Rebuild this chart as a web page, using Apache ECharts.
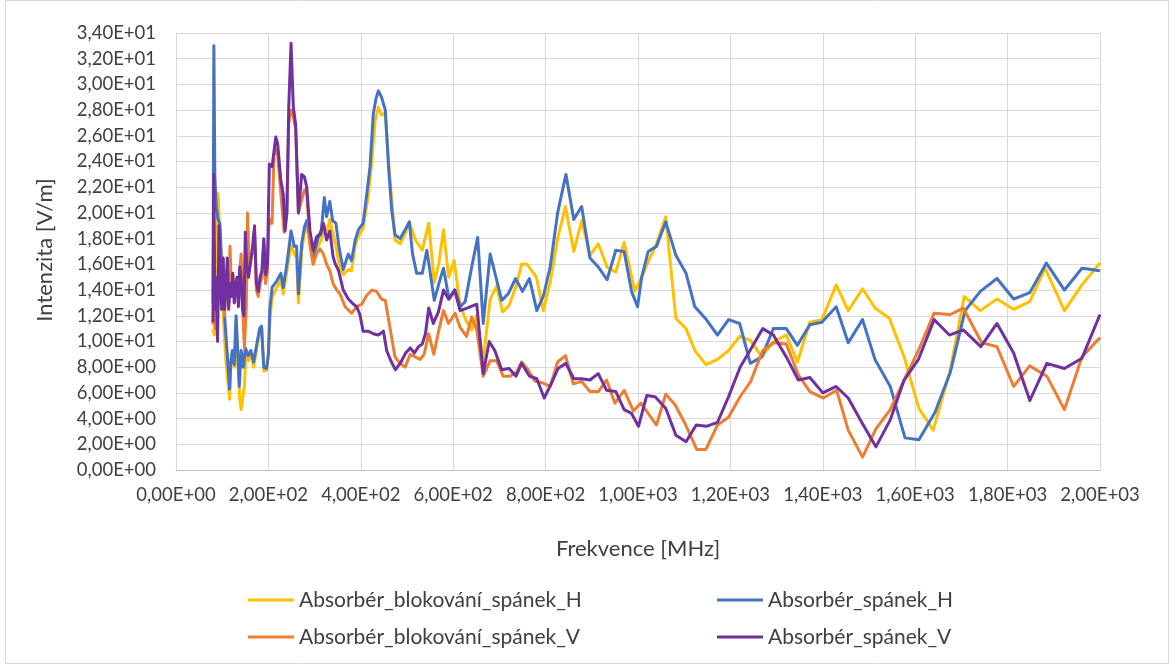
<!DOCTYPE html>
<html>
<head>
<meta charset="utf-8">
<script src="https://cdn.jsdelivr.net/npm/echarts@6/dist/echarts.min.js"></script>
<style>
  html, body { margin: 0; padding: 0; background: #ffffff; }
  #chart { width: 1176px; height: 669px; }
</style>
</head>
<body>
<div id="chart"></div>
<script>
// Measured field strength [V/m] against frequency [MHz], pairs of [MHz, V/m]
const absBlokH = [[80,11.0],[83,10.5],[86,16.0],[89,18.0],[91,21.5],[94,19.0],[97,17.0],[100,14.0],[104,11.0],[108,8.5],[112,7.0],[116,5.5],[119,8.5],[123,9.0],[127,8.0],[130,11.5],[134,8.5],[138,5.5],[141,4.7],[145,4.7],[148,6.5],[152,9.3],[157,8.5],[163,9.0],[168,8.0],[174,9.3],[181,10.8],[186,11.0],[190,7.7],[196,7.8],[200,9.0],[204,12.0],[208,13.4],[218,14.2],[227,14.8],[232,13.7],[240,15.5],[249,17.5],[256,16.8],[261,16.5],[265,13.0],[272,17.0],[278,18.5],[283,19.0],[290,17.5],[297,16.0],[308,17.5],[314,17.8],[321,19.0],[326,18.5],[333,19.5],[339,18.5],[346,17.5],[353,16.0],[362,15.2],[373,15.6],[380,15.5],[388,17.5],[395,18.2],[405,18.8],[416,21.3],[424,24.1],[431,27.2],[438,28.2],[445,27.6],[453,27.8],[460,24.1],[467,21.0],[474,17.9],[485,17.6],[496,18.4],[505,19.3],[518,17.9],[533,17.1],[547,19.2],[559,14.6],[569,16.1],[579,18.7],[590,15.0],[602,16.3],[615,12.8],[628,11.6],[640,10.9],[650,12.0],[665,8.5],[680,13.3],[694,14.3],[707,12.3],[721,12.8],[736,14.3],[748,16.0],[760,16.0],[780,15.0],[795,12.4],[811,14.8],[826,18.0],[843,20.5],[861,17.0],[878,19.4],[896,16.7],[914,17.6],[933,15.8],[952,15.4],[970,17.7],[993,13.9],[1008,15.0],[1022,16.2],[1040,17.6],[1060,19.7],[1082,11.8],[1104,11.0],[1123,9.3],[1147,8.2],[1172,8.6],[1196,9.3],[1220,10.4],[1243,10.1],[1268,8.8],[1293,10.0],[1321,10.5],[1345,8.4],[1372,11.5],[1398,11.7],[1429,14.4],[1455,12.4],[1486,14.1],[1513,12.6],[1544,11.8],[1576,8.8],[1608,4.8],[1639,3.1],[1676,7.8],[1706,13.5],[1741,12.4],[1777,13.3],[1813,12.5],[1848,13.1],[1881,15.7],[1923,12.4],[1961,14.4],[2000,16.1]];

const absSpanekH = [[80,13.0],[82,33.0],[84,23.0],[87,20.5],[91,19.5],[95,19.2],[99,16.0],[103,13.5],[107,11.0],[111,9.0],[116,6.3],[119,8.5],[122,9.3],[126,8.2],[130,12.0],[134,9.0],[137,6.5],[141,9.3],[146,8.0],[150,9.5],[156,8.9],[162,9.3],[168,8.4],[174,9.6],[181,11.0],[185,11.2],[190,8.0],[196,7.9],[200,9.0],[203,12.5],[208,14.2],[218,14.7],[227,15.3],[232,14.2],[240,16.0],[249,18.6],[256,17.4],[261,17.4],[265,13.7],[272,17.6],[278,18.9],[283,19.4],[290,18.1],[297,16.6],[308,18.1],[314,18.4],[321,21.2],[326,19.7],[333,20.9],[339,19.4],[346,19.2],[353,17.3],[362,15.6],[373,16.8],[380,16.3],[388,17.9],[395,18.7],[405,19.2],[413,21.5],[420,23.6],[427,27.7],[433,28.9],[438,29.5],[445,29.0],[453,28.0],[460,23.6],[467,20.2],[474,18.3],[485,18.0],[496,18.7],[505,19.3],[512,16.8],[521,15.3],[533,15.3],[543,17.1],[559,13.2],[569,14.5],[579,15.7],[591,13.3],[604,14.0],[615,12.7],[626,13.1],[640,15.8],[653,18.1],[665,11.4],[680,16.8],[694,14.8],[705,13.2],[719,13.7],[735,14.9],[750,13.9],[765,14.9],[781,12.4],[795,13.5],[810,15.8],[826,20.0],[844,23.0],[861,19.5],[878,20.5],[896,16.5],[914,15.8],[933,14.8],[952,17.1],[970,17.0],[986,13.9],[999,12.7],[1008,15.0],[1022,17.0],[1040,17.4],[1060,19.3],[1082,16.7],[1104,15.3],[1123,12.7],[1148,11.7],[1172,10.5],[1196,11.7],[1220,11.4],[1243,8.3],[1268,8.8],[1293,11.0],[1321,11.0],[1345,9.7],[1372,11.3],[1398,11.5],[1429,12.7],[1455,9.9],[1486,11.7],[1513,8.6],[1546,6.5],[1578,2.5],[1608,2.35],[1643,4.5],[1676,7.6],[1708,12.4],[1741,13.9],[1777,14.9],[1813,13.3],[1848,13.8],[1884,16.1],[1923,14.0],[1961,15.7],[2000,15.5]];

const absBlokV = [[80,11.3],[82,12.0],[84,14.0],[86,11.0],[88,13.0],[90,11.5],[93,16.5],[96,14.0],[99,12.5],[102,16.5],[105,12.0],[108,14.5],[111,15.5],[114,13.0],[117,17.4],[120,13.5],[123,15.0],[126,13.5],[129,14.0],[132,14.8],[135,13.0],[138,15.5],[141,16.8],[144,13.0],[148,9.5],[152,12.5],[155,20.0],[158,16.0],[162,16.0],[166,17.0],[170,18.5],[174,14.0],[178,13.5],[182,14.5],[186,15.0],[190,17.5],[194,14.5],[198,15.5],[201,19.0],[205,19.5],[208,19.2],[212,24.5],[216,25.0],[220,24.5],[227,21.5],[234,18.5],[240,20.0],[244,27.0],[249,28.0],[254,27.5],[259,26.5],[265,20.0],[272,21.0],[278,21.8],[283,21.5],[290,17.5],[297,16.0],[304,16.8],[312,17.2],[319,16.8],[326,16.0],[333,15.5],[340,14.5],[348,14.0],[355,13.7],[366,12.7],[380,12.2],[391,12.7],[402,12.9],[413,13.6],[424,14.0],[434,13.9],[445,13.3],[453,13.2],[463,11.1],[474,8.8],[485,8.3],[496,8.0],[507,9.0],[518,8.8],[528,8.6],[537,9.0],[547,10.6],[558,9.0],[569,10.9],[579,12.4],[590,11.4],[604,12.2],[615,11.1],[629,10.4],[640,11.9],[651,10.9],[665,7.3],[680,8.5],[694,8.5],[708,7.3],[723,7.3],[737,7.6],[748,8.4],[762,7.8],[777,6.9],[792,6.8],[810,6.5],[826,8.4],[843,8.9],[860,6.7],[878,6.9],[896,6.1],[914,6.1],[932,7.0],[950,5.2],[970,6.2],[990,4.6],[1006,5.2],[1022,4.4],[1040,3.5],[1060,5.9],[1080,5.1],[1102,3.6],[1127,1.6],[1147,1.6],[1172,3.5],[1196,4.1],[1221,5.7],[1244,6.9],[1270,9.3],[1294,9.9],[1321,9.8],[1347,7.4],[1372,6.1],[1401,5.6],[1430,6.2],[1455,3.1],[1486,1.0],[1515,3.2],[1546,4.7],[1576,7.0],[1607,9.3],[1641,12.2],[1676,12.1],[1704,12.6],[1744,9.9],[1777,9.6],[1813,6.5],[1848,8.1],[1885,7.3],[1923,4.7],[1961,8.8],[2000,10.3]];

const absSpanekV = [[80,11.5],[82,23.0],[84,12.5],[86,15.0],[88,13.0],[90,10.0],[93,19.0],[96,14.5],[99,12.5],[102,16.5],[105,12.5],[108,14.0],[111,16.5],[114,12.5],[117,14.5],[120,13.5],[123,15.3],[126,13.0],[129,14.3],[132,15.0],[135,12.7],[138,15.8],[141,14.8],[144,12.5],[147,12.0],[150,18.5],[153,16.0],[157,15.0],[162,16.3],[166,17.5],[170,19.0],[174,14.5],[178,13.9],[182,15.0],[186,15.5],[190,18.0],[194,15.2],[198,16.0],[202,23.8],[208,23.6],[216,25.9],[220,25.4],[227,22.5],[232,21.5],[236,18.6],[240,20.0],[244,28.2],[249,33.2],[254,28.2],[259,26.9],[265,20.0],[272,23.0],[278,22.8],[283,22.0],[290,18.6],[297,17.1],[304,18.1],[312,18.4],[319,19.2],[326,17.9],[333,18.6],[340,16.6],[344,16.1],[352,15.5],[362,14.0],[373,13.3],[384,12.9],[391,12.7],[398,12.1],[405,10.8],[416,10.8],[427,10.6],[438,10.5],[449,10.8],[456,9.3],[465,8.5],[475,7.8],[487,8.4],[497,9.1],[507,9.5],[516,9.1],[525,9.6],[533,9.8],[540,10.6],[547,12.6],[557,11.4],[568,12.3],[579,14.0],[590,13.3],[603,14.0],[615,12.4],[630,12.6],[651,12.9],[665,7.5],[678,10.0],[690,9.3],[705,7.8],[721,7.9],[736,7.3],[748,8.3],[765,7.3],[781,7.1],[797,5.6],[812,6.7],[827,7.9],[844,8.3],[861,7.1],[878,7.1],[896,7.0],[914,7.5],[932,6.2],[952,6.1],[970,4.7],[986,4.4],[1001,3.4],[1019,5.8],[1037,5.7],[1060,4.8],[1082,2.7],[1104,2.2],[1126,3.5],[1148,3.4],[1172,3.7],[1196,5.7],[1221,8.0],[1244,9.4],[1270,11.0],[1293,10.5],[1321,8.8],[1347,7.0],[1372,7.2],[1400,6.0],[1429,6.5],[1455,5.6],[1486,3.6],[1515,1.8],[1546,3.9],[1576,7.0],[1607,8.6],[1641,11.7],[1674,10.5],[1704,10.9],[1742,9.6],[1777,11.4],[1813,9.1],[1848,5.4],[1885,8.3],[1923,7.9],[1961,8.7],[2000,12.1]];

const seriesNames = ['Absorbér_blokování_spánek_H', 'Absorbér_spánek_H', 'Absorbér_blokování_spánek_V', 'Absorbér_spánek_V'];
const seriesData = [absBlokH, absSpanekH, absBlokV, absSpanekV];
const seriesColors = ['#FFC000', '#4472C4', '#ED7D31', '#7030A0'];

const xTitle = 'Frekvence [MHz]';
const yTitle = 'Intenzita [V/m]';

// Number format with comma decimal separator and two-digit exponent, e.g. 3,40E+01
function sci(v) {
  if (v === 0) return '0,00E+00';
  const e = Math.floor(Math.log10(Math.abs(v)) + 1e-9);
  const m = v / Math.pow(10, e);
  return m.toFixed(2).replace('.', ',') + 'E' + (e < 0 ? '-' : '+') + String(Math.abs(e)).padStart(2, '0');
}

const FONT = 'Lato, "Liberation Sans", sans-serif';
const TEXT = '#404040';

const chart = echarts.init(document.getElementById('chart'), null, { renderer: 'canvas' });

const legendCommon = {
  orient: 'vertical',
  icon: 'rect',
  itemWidth: 46,
  itemHeight: 3,
  itemGap: 15,
  padding: 0,
  textStyle: { fontFamily: FONT, fontSize: 21, color: TEXT, lineHeight: 22 },
  selectedMode: false
};

chart.setOption({
  animation: false,
  backgroundColor: '#ffffff',
  textStyle: { fontFamily: FONT },
  grid: { left: 176, right: 76, top: 33, height: 437, containLabel: false },
  xAxis: {
    type: 'value', min: 0, max: 2000, interval: 200,
    axisLine: { show: true, lineStyle: { color: '#bfbfbf', width: 1 } },
    axisTick: { show: false },
    splitLine: { show: true, lineStyle: { color: '#d9d9d9', width: 1 } },
    axisLabel: { formatter: sci, fontFamily: FONT, fontSize: 18.5, color: TEXT, margin: 16 }
  },
  yAxis: {
    type: 'value', min: 0, max: 34, interval: 2,
    axisLine: { show: false },
    axisTick: { show: false },
    splitLine: { show: true, lineStyle: { color: '#d9d9d9', width: 1 } },
    axisLabel: { formatter: sci, fontFamily: FONT, fontSize: 18.5, color: TEXT, margin: 20 }
  },
  legend: [
    Object.assign({ left: 248, top: 589, data: [seriesNames[0], seriesNames[2]] }, legendCommon),
    Object.assign({ left: 717, top: 589, data: [seriesNames[1], seriesNames[3]] }, legendCommon)
  ],
  graphic: [
    { type: 'rect', shape: { x: 5.5, y: 0.5, width: 1163, height: 663 }, style: { fill: 'none', stroke: '#d9d9d9', lineWidth: 1 }, silent: true },
    { type: 'text', x: 45, y: 250, rotation: Math.PI / 2, style: { text: yTitle, font: '22px ' + FONT, fill: TEXT, textAlign: 'center', textVerticalAlign: 'middle' } },
    { type: 'text', x: 638, y: 549, style: { text: xTitle, font: '22px ' + FONT, fill: TEXT, textAlign: 'center', textVerticalAlign: 'middle' } }
  ],
  series: seriesData.map((d, i) => ({
    name: seriesNames[i],
    type: 'line',
    data: d,
    showSymbol: false,
    symbol: 'none',
    smooth: false,
    color: seriesColors[i],
    lineStyle: { color: seriesColors[i], width: 3, join: 'round' },
    z: 2 + i
  }))
});
</script>
</body>
</html>
